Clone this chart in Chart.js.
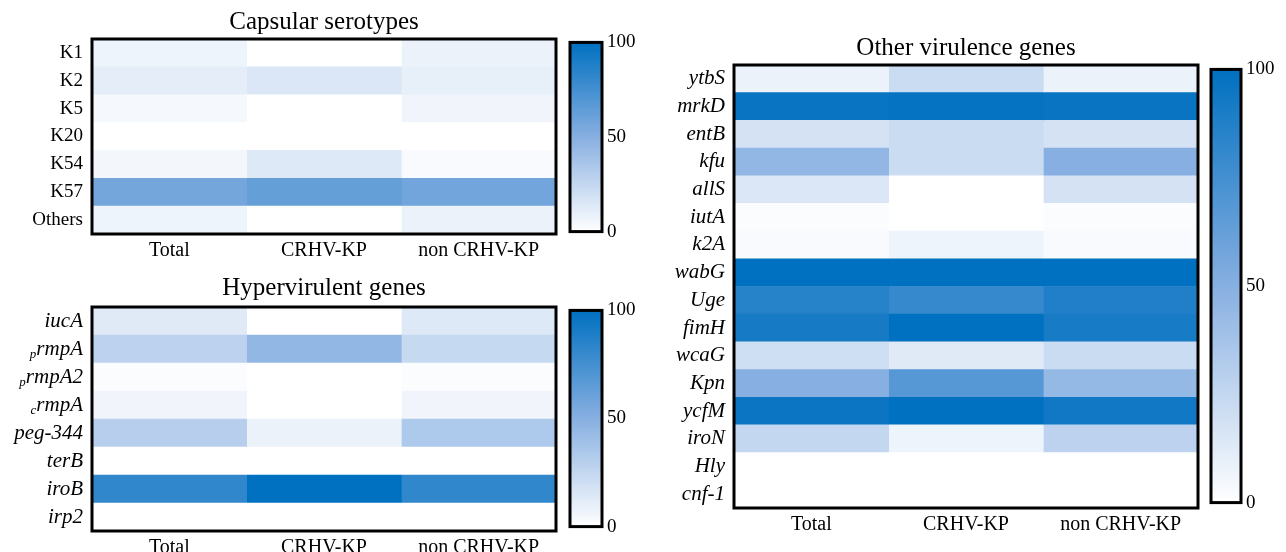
<!DOCTYPE html>
<html>
<head>
<meta charset="utf-8">
<script src="https://cdn.jsdelivr.net/npm/chart.js@4.4.0/dist/chart.umd.min.js"></script>
<style>
    html, body { margin: 0; padding: 0; background: #fff; overflow: hidden; }
    body { position: relative; width: 1286px; height: 552px; }
    canvas { position: absolute; }
</style>
</head>
<body>
<canvas id="heatCapsular" width="560" height="270" style="left:0;top:0"></canvas>
<canvas id="barCapsular" width="74" height="222" style="left:566px;top:26px"></canvas>
<canvas id="heatHyper" width="560" height="301" style="left:0;top:266px"></canvas>
<canvas id="barHyper" width="74" height="249" style="left:566px;top:294px"></canvas>
<canvas id="heatOther" width="562" height="518" style="left:640px;top:26px"></canvas>
<canvas id="barOther" width="72" height="466" style="left:1207px;top:53px"></canvas>
<script>
// ===================================
// DATA (% of isolates)
// ===================================
const columns = ['Total', 'CRHV-KP', 'non CRHV-KP'];
const colorbarTicks = [0, 50, 100];

const capsularRows = ['K1', 'K2', 'K5', 'K20', 'K54', 'K57', 'Others'];
const capsularTotal = [7, 11, 4, 0, 5, 57, 7];
const capsularCrhv = [0, 15, 0, 0, 14, 63, 0];
const capsularNon = [8, 10, 6, 0, 3, 58, 8];

const hyperRows = ['iucA', 'rmpA', 'rmpA2', 'rmpA', 'peg-344', 'terB', 'iroB', 'irp2'];
const hyperPrefix = ['', 'p', 'p', 'c', '', '', '', ''];
const hyperTotal = [13, 28, 2, 6, 30, 0, 82, 0];
const hyperCrhv = [0, 45, 0, 0, 8, 0, 100, 0];
const hyperNon = [14, 24, 2, 6, 34, 0, 82, 0];

const otherRows = ['ytbS', 'mrkD', 'entB', 'kfu', 'allS', 'iutA', 'k2A', 'wabG', 'Uge', 'fimH', 'wcaG', 'Kpn', 'ycfM', 'iroN', 'Hly', 'cnf-1'];
const otherTotal = [8, 97, 18, 45, 15, 2, 3, 100, 86, 92, 20, 50, 96, 25, 0, 0];
const otherCrhv = [22, 98, 22, 22, 0, 0, 7, 100, 80, 100, 13, 68, 100, 7, 0, 0];
const otherNon = [8, 97, 18, 50, 18, 2, 3, 100, 88, 91, 22, 44, 94, 28, 0, 0];

// ===================================
// HELPERS
// ===================================
const SERIF = "'Liberation Serif', 'Times New Roman', serif";
// colour map: 0 -> white, 50 -> mid blue, 100 -> dark blue
const CMAP = [[255, 255, 255], [135, 175, 225], [0, 112, 192]];

function cellColor(v) {
    const t = Math.max(0, Math.min(1, v / 100)) * 2;
    const k = Math.min(1, Math.floor(t));
    const f = t - k;
    const c = CMAP[k].map((l, i) => Math.round(l + (CMAP[k + 1][i] - l) * f));
    return `rgb(${c[0]},${c[1]},${c[2]})`;
}

// black frame round the plot area
const framePlugin = {
    id: 'frame',
    afterDatasetsDraw(chart) {
        const { ctx, chartArea: a } = chart;
        ctx.save();
        ctx.strokeStyle = '#000';
        ctx.lineWidth = 3;
        ctx.strokeRect(a.left, a.top, a.right - a.left, a.bottom - a.top);
        ctx.restore();
    }
};

// row labels (drawn by hand so that the small prefix letters work)
const rowLabelPlugin = {
    id: 'rowLabels',
    afterDraw(chart, args, opts) {
        const { ctx, chartArea: a } = chart;
        const y = chart.scales.y;
        ctx.save();
        ctx.fillStyle = '#000';
        ctx.textBaseline = 'middle';
        ctx.textAlign = 'right';
        opts.rows.forEach((name, i) => {
            const py = y.getPixelForValue(i);
            const x = a.left - opts.gap;
            ctx.font = opts.font;
            ctx.fillText(name, x, py);
            const pre = opts.prefix ? opts.prefix[i] : '';
            if (pre) {
                const w = ctx.measureText(name).width;
                ctx.font = opts.subFont;
                ctx.fillText(pre, x - w, py + 6);
            }
        });
        ctx.restore();
    }
};

function makeHeatmap(id, title, rows, values, labelOpts, pad, titlePad) {
    return new Chart(document.getElementById(id), {
        type: 'bar',
        data: {
            labels: rows,
            datasets: columns.map((c, j) => ({
                label: c,
                data: rows.map(() => 1),
                backgroundColor: values[j].map(cellColor),
                borderWidth: 0,
                categoryPercentage: 1,
                barPercentage: 1
            }))
        },
        options: {
            indexAxis: 'y',
            responsive: false,
            animation: false,
            events: [],
            layout: { padding: pad },
            scales: {
                x: {
                    type: 'linear',
                    stacked: true,
                    min: 0,
                    max: columns.length,
                    grid: { display: false, drawTicks: false },
                    border: { display: false },
                    afterBuildTicks: s => { s.ticks = columns.map((c, i) => ({ value: i + 0.5 })); },
                    ticks: {
                        color: '#000',
                        font: { family: SERIF, size: 20 },
                        padding: 5,
                        maxRotation: 0,
                        autoSkip: false,
                        callback: (v, i) => columns[i]
                    }
                },
                y: { type: 'category', stacked: true, display: false }
            },
            plugins: {
                legend: { display: false },
                tooltip: { enabled: false },
                title: {
                    display: true,
                    text: title,
                    fullSize: false,
                    color: '#000',
                    font: { family: SERIF, size: 25, weight: 'normal', lineHeight: 1.2 },
                    padding: titlePad
                },
                rowLabels: Object.assign({ rows: rows, gap: 9 }, labelOpts)
            }
        },
        plugins: [framePlugin, rowLabelPlugin]
    });
}

function makeColorbar(id) {
    return new Chart(document.getElementById(id), {
        type: 'bar',
        data: {
            labels: [''],
            datasets: [{
                data: [[colorbarTicks[0], colorbarTicks[colorbarTicks.length - 1]]],
                borderWidth: 0,
                categoryPercentage: 1,
                barPercentage: 1,
                backgroundColor: ctx => {
                    const a = ctx.chart.chartArea;
                    if (!a) return null;
                    const g = ctx.chart.ctx.createLinearGradient(0, a.bottom, 0, a.top);
                    for (let v = 0; v <= 100; v += 10) g.addColorStop(v / 100, cellColor(v));
                    return g;
                }
            }]
        },
        options: {
            responsive: false,
            animation: false,
            events: [],
            layout: { padding: { left: 4, top: 14, bottom: 14, right: 0 } },
            scales: {
                x: { display: false },
                y: {
                    position: 'right',
                    min: 0,
                    max: 100,
                    grid: { display: false, drawTicks: false },
                    border: { display: false },
                    afterBuildTicks: s => { s.ticks = colorbarTicks.map(v => ({ value: v })); },
                    afterFit: s => { s.width = 38; },
                    ticks: {
                        color: '#000',
                        font: { family: SERIF, size: 19 },
                        padding: 5
                    }
                }
            },
            plugins: { legend: { display: false }, tooltip: { enabled: false } }
        },
        plugins: [framePlugin]
    });
}

// ===================================
// CHARTS
// ===================================
makeHeatmap('heatCapsular', 'Capsular serotypes', capsularRows,
    [capsularTotal, capsularCrhv, capsularNon],
    { font: `19px ${SERIF}` },
    { left: 92, right: 4, top: 0, bottom: 2 }, { top: 7, bottom: 2 });

makeHeatmap('heatHyper', 'Hypervirulent genes', hyperRows,
    [hyperTotal, hyperCrhv, hyperNon],
    { font: `italic 21px ${SERIF}`, subFont: `italic 13px ${SERIF}`, prefix: hyperPrefix },
    { left: 92, right: 4, top: 0, bottom: 2 }, { top: 7, bottom: 4 });

makeHeatmap('heatOther', 'Other virulence genes', otherRows,
    [otherTotal, otherCrhv, otherNon],
    { font: `italic 21px ${SERIF}` },
    { left: 94, right: 4, top: 0, bottom: 2 }, { top: 7, bottom: 2 });

makeColorbar('barCapsular');
makeColorbar('barHyper');
makeColorbar('barOther');
</script>
</body>
</html>
